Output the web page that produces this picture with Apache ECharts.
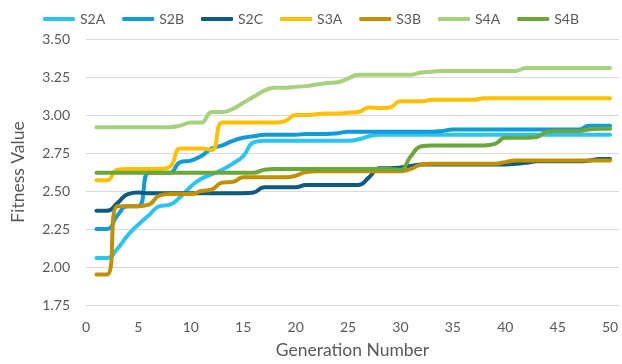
<!DOCTYPE html>
<html>
<head>
<meta charset="utf-8">
<script src="https://cdn.jsdelivr.net/npm/echarts@6/dist/echarts.min.js"></script>
<style>
  html, body { margin: 0; padding: 0; background: #ffffff; }
  #chart { width: 622px; height: 364px; }
</style>
</head>
<body>
<div id="chart"></div>
<script>
// Generations 1..50
const generations = Array.from({ length: 50 }, (_, i) => i + 1);

const seriesNames = ['S2A', 'S2B', 'S2C', 'S3A', 'S3B', 'S4A', 'S4B'];

const s2a = [2.06, 2.06, 2.12, 2.21, 2.28, 2.34, 2.40, 2.41, 2.46, 2.53,
             2.58, 2.61, 2.64, 2.68, 2.73, 2.82, 2.83, 2.83, 2.83, 2.83,
             2.83, 2.83, 2.83, 2.83, 2.83, 2.84, 2.86, 2.87, 2.87, 2.87,
             2.87, 2.87, 2.87, 2.87, 2.87, 2.87, 2.87, 2.87, 2.87, 2.87,
             2.87, 2.87, 2.87, 2.87, 2.87, 2.87, 2.87, 2.87, 2.87, 2.87];

const s2b = [2.25, 2.25, 2.34, 2.40, 2.40, 2.62, 2.62, 2.62, 2.69, 2.70,
             2.73, 2.78, 2.80, 2.83, 2.85, 2.86, 2.87, 2.87, 2.87, 2.87,
             2.875, 2.875, 2.875, 2.88, 2.89, 2.89, 2.89, 2.89, 2.89, 2.89,
             2.89, 2.89, 2.89, 2.895, 2.905, 2.905, 2.905, 2.905, 2.905, 2.905,
             2.905, 2.905, 2.905, 2.905, 2.905, 2.905, 2.905, 2.93, 2.93, 2.93];

const s2c = [2.37, 2.37, 2.42, 2.48, 2.49, 2.485, 2.485, 2.485, 2.485, 2.485,
             2.485, 2.485, 2.485, 2.485, 2.485, 2.49, 2.525, 2.525, 2.525, 2.525,
             2.54, 2.54, 2.54, 2.54, 2.54, 2.54, 2.59, 2.65, 2.65, 2.655,
             2.665, 2.675, 2.675, 2.675, 2.675, 2.675, 2.675, 2.675, 2.675, 2.675,
             2.68, 2.685, 2.695, 2.695, 2.695, 2.695, 2.695, 2.70, 2.71, 2.71];

const s3a = [2.57, 2.57, 2.64, 2.645, 2.645, 2.645, 2.645, 2.66, 2.78, 2.78,
             2.78, 2.77, 2.95, 2.95, 2.95, 2.95, 2.95, 2.95, 2.96, 3.00,
             3.00, 3.005, 3.01, 3.01, 3.015, 3.02, 3.05, 3.045, 3.05, 3.09,
             3.09, 3.09, 3.10, 3.10, 3.10, 3.10, 3.10, 3.11, 3.11, 3.11,
             3.11, 3.11, 3.11, 3.11, 3.11, 3.11, 3.11, 3.11, 3.11, 3.11];

const s3b = [1.95, 1.95, 2.40, 2.40, 2.40, 2.41, 2.47, 2.48, 2.48, 2.48,
             2.50, 2.51, 2.555, 2.56, 2.59, 2.59, 2.59, 2.59, 2.59, 2.60,
             2.625, 2.63, 2.63, 2.63, 2.63, 2.63, 2.63, 2.63, 2.63, 2.63,
             2.645, 2.675, 2.68, 2.68, 2.68, 2.68, 2.68, 2.68, 2.68, 2.69,
             2.70, 2.70, 2.70, 2.70, 2.70, 2.70, 2.70, 2.70, 2.70, 2.70];

const s4a = [2.92, 2.92, 2.92, 2.92, 2.92, 2.92, 2.92, 2.92, 2.93, 2.95,
             2.95, 3.02, 3.02, 3.04, 3.08, 3.12, 3.16, 3.18, 3.18, 3.185,
             3.19, 3.20, 3.21, 3.215, 3.24, 3.265, 3.265, 3.265, 3.265, 3.265,
             3.265, 3.28, 3.285, 3.29, 3.29, 3.29, 3.29, 3.29, 3.29, 3.29,
             3.29, 3.31, 3.31, 3.31, 3.31, 3.31, 3.31, 3.31, 3.31, 3.31];

const s4b = [2.62, 2.62, 2.62, 2.62, 2.62, 2.62, 2.62, 2.62, 2.62, 2.62,
             2.62, 2.62, 2.62, 2.62, 2.62, 2.62, 2.64, 2.645, 2.645, 2.645,
             2.645, 2.645, 2.645, 2.645, 2.645, 2.645, 2.645, 2.645, 2.645, 2.64,
             2.73, 2.795, 2.80, 2.80, 2.80, 2.80, 2.80, 2.80, 2.81, 2.85,
             2.85, 2.85, 2.855, 2.89, 2.895, 2.895, 2.895, 2.905, 2.91, 2.91];

const seriesValues = [s2a, s2b, s2c, s3a, s3b, s4a, s4b];
const seriesColors = ['#2bc3f3', '#0f9bd7', '#0e5b7f', '#ffc000', '#bf9000', '#a6d27e', '#6aa63c'];

const yTicks = { min: 1.75, max: 3.5, step: 0.25 };
const xTicks = { min: 0, max: 50, step: 5 };

const textColor = '#595959';
const gridColor = '#d9d9d9';
const fontFamily = 'Lato, "Open Sans", sans-serif';

const chart = echarts.init(document.getElementById('chart'), null, { renderer: 'canvas' });

chart.setOption({
  animation: false,
  backgroundColor: '#ffffff',
  textStyle: { fontFamily: fontFamily, color: textColor },
  legend: {
    top: 7,
    left: 'center',
    itemWidth: 32,
    itemHeight: 4,
    itemGap: 17,
    icon: 'roundRect',
    textStyle: { fontSize: 14, color: textColor, fontFamily: fontFamily },
    data: seriesNames
  },
  grid: { left: 86, right: 0, top: 39, bottom: 55 },
  xAxis: {
    type: 'value',
    min: xTicks.min,
    max: xTicks.max + 0.85,
    interval: xTicks.step,
    name: 'Generation Number',
    nameLocation: 'middle',
    nameGap: 36,
    nameTextStyle: { fontSize: 17.5, color: textColor, fontFamily: fontFamily },
    axisLine: { show: true, lineStyle: { color: gridColor, width: 1 } },
    axisTick: { show: false },
    splitLine: { show: false },
    axisLabel: {
      fontSize: 14,
      color: textColor,
      margin: 15,
      formatter: v => (v % xTicks.step === 0 && v <= xTicks.max) ? String(v) : ''
    }
  },
  yAxis: {
    type: 'value',
    min: yTicks.min,
    max: yTicks.max,
    interval: yTicks.step,
    name: 'Fitness Value',
    nameLocation: 'middle',
    nameGap: 59,
    nameTextStyle: { fontSize: 17.5, color: textColor, fontFamily: fontFamily },
    axisLine: { show: false },
    axisTick: { show: false },
    splitLine: { show: true, lineStyle: { color: gridColor, width: 1 } },
    axisLabel: {
      fontSize: 14,
      color: textColor,
      margin: 16,
      formatter: v => v.toFixed(2)
    }
  },
  series: seriesNames.map((name, i) => ({
    name: name,
    type: 'line',
    data: generations.map((g, j) => [g, seriesValues[i][j]]),
    smooth: 0.5,
    symbol: 'none',
    showSymbol: false,
    color: seriesColors[i],
    lineStyle: { width: 4, color: seriesColors[i], cap: 'round', join: 'round' },
    emphasis: { disabled: true }
  }))
});
</script>
</body>
</html>
